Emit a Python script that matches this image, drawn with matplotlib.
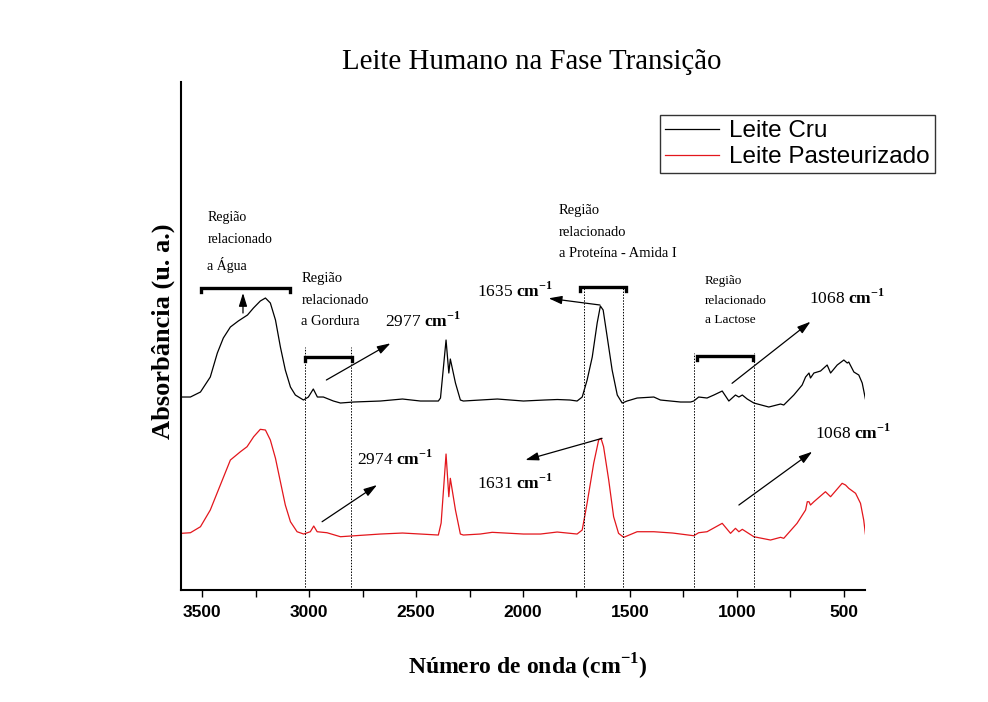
import matplotlib

matplotlib.use("Agg")
import matplotlib.pyplot as plt
from matplotlib.ticker import MultipleLocator

plt.rcParams["mathtext.fontset"] = "custom"
plt.rcParams["mathtext.rm"] = "Liberation Serif"
plt.rcParams["mathtext.bf"] = "Liberation Serif:bold"

SERIF = "Liberation Serif"
SANS = "Liberation Sans"

# FTIR spectra (wavenumber in cm-1, absorbance in a.u.)
cru_wn = [3598, 3556, 3509, 3463, 3430, 3402, 3369, 3332, 3289, 3261, 3229, 3205, 3182,
          3158, 3135, 3112, 3088, 3065, 3027, 3004, 2981, 2962, 2934, 2887, 2854, 2793,
          2667, 2564, 2480, 2396, 2386, 2360, 2347, 2340, 2316, 2293, 2279, 2200, 2120,
          1998, 1900, 1839, 1780, 1747, 1723, 1700, 1676, 1653, 1638, 1625, 1606, 1583,
          1559, 1536, 1513, 1466, 1388, 1357, 1263, 1216, 1201, 1178, 1139, 1107, 1068,
          1037, 1006, 990, 974, 951, 920, 850, 795, 780, 733, 694, 678, 662, 655, 639,
          608, 577, 561, 530, 499, 483, 476, 452, 429, 413, 398]
cru_abs = [1.93, 1.93, 1.98, 2.13, 2.37, 2.52, 2.63, 2.69, 2.75, 2.82, 2.89, 2.92, 2.87,
           2.70, 2.43, 2.20, 2.03, 1.95, 1.90, 1.93, 2.01, 1.93, 1.93, 1.89, 1.87, 1.88,
           1.89, 1.91, 1.89, 1.89, 1.92, 2.50, 2.17, 2.31, 2.07, 1.90, 1.89, 1.90, 1.91,
           1.89, 1.90, 1.905, 1.90, 1.89, 1.93, 2.10, 2.33, 2.67, 2.84, 2.80, 2.53, 2.20,
           1.95, 1.87, 1.89, 1.92, 1.93, 1.90, 1.88, 1.88, 1.89, 1.93, 1.92, 1.95, 1.99,
           1.89, 1.95, 1.93, 1.95, 1.91, 1.87, 1.83, 1.86, 1.85, 1.95, 2.05, 2.13, 2.17,
           2.12, 2.17, 2.19, 2.25, 2.17, 2.25, 2.30, 2.27, 2.28, 2.18, 2.15, 2.07, 1.91]

past_wn = [3598, 3556, 3509, 3463, 3416, 3369, 3322, 3291, 3260, 3229, 3205, 3182, 3158,
           3135, 3112, 3088, 3057, 3026, 2995, 2979, 2963, 2917, 2854, 2807, 2667, 2564,
           2480, 2396, 2383, 2360, 2347, 2340, 2316, 2293, 2279, 2200, 2144, 1998, 1918,
           1840, 1747, 1723, 1700, 1669, 1646, 1635, 1623, 1599, 1576, 1553, 1529, 1466,
           1388, 1300, 1201, 1178, 1139, 1068, 1029, 1006, 990, 974, 920, 842, 795, 780,
           718, 678, 670, 662, 655, 639, 585, 561, 507, 491, 476, 444, 421, 406, 398]
past_abs = [0.567, 0.573, 0.633, 0.80, 1.05, 1.30, 1.383, 1.433, 1.533, 1.607, 1.60, 1.50,
            1.317, 1.083, 0.85, 0.683, 0.583, 0.56, 0.583, 0.64, 0.583, 0.573, 0.533, 0.54,
            0.56, 0.57, 0.56, 0.55, 0.67, 1.36, 0.933, 1.117, 0.80, 0.56, 0.55, 0.56, 0.577,
            0.56, 0.56, 0.58, 0.56, 0.60, 0.87, 1.27, 1.50, 1.517, 1.433, 1.10, 0.733, 0.567,
            0.527, 0.583, 0.583, 0.57, 0.543, 0.573, 0.583, 0.667, 0.567, 0.617, 0.583, 0.607,
            0.533, 0.50, 0.527, 0.517, 0.667, 0.80, 0.883, 0.883, 0.85, 0.883, 0.983, 0.933,
            1.067, 1.05, 1.017, 0.967, 0.867, 0.70, 0.56]

# region brackets: (start, end, height)
brackets = [(3505, 3088, 3.02), (3020, 2802, 2.33), (1735, 1517, 3.03), (1188, 926, 2.34)]
# dotted region limits: (wavenumber, top)
guides = [(3020, 2.43), (2807, 2.43), (1716, 3.03), (1532, 3.03), (1198, 2.37), (917, 2.37)]
region_texts = [
    (3477, 3.48, "Região\nrelacionado\na Água", 10),
    (3037, 2.90, "Região\nrelacionado\na Gordura", 10.5),
    (1833, 3.577, "Região\nrelacionado\na Proteína - Amida I", 10.5),
    (1149, 2.893, "Região\nrelacionado\na Lactose", 9.5),
]
# arrows: (tail x, tail y, head x, head y)
arrows = [
    (3310, 2.77, 3310, 2.97),
    (2920, 2.10, 2620, 2.467),
    (1640, 2.85, 1880, 2.917),
    (1022, 2.067, 655, 2.683),
    (2940, 0.683, 2683, 1.05),
    (1630, 1.517, 1989, 1.30),
    (990, 0.85, 647, 1.383),
]
peak_labels = [
    (2644, 2.63, "2977"),
    (2215, 2.93, "1635"),
    (663, 2.86, "1068"),
    (2776, 1.255, "2974"),
    (2215, 1.01, "1631"),
    (632, 1.51, "1068"),
]

fig = plt.figure(figsize=(9.88, 7.02), dpi=100)
ax = fig.add_axes([0.1832, 0.1595, 0.6923, 0.7237])

ax.plot(cru_wn, cru_abs, color="black", lw=0.9, label="Leite Cru")
ax.plot(past_wn, past_abs, color="#e3161c", lw=0.9, label="Leite Pasteurizado")

for w, top in guides:
    ax.plot([w, w], [0, top], color="black", lw=0.7, ls=(0, (1.5, 1.5)))

for x0, x1, h in brackets:
    ax.plot([x0, x0, x1, x1], [h - 0.04, h, h, h - 0.04], color="black", lw=2.4,
            solid_joinstyle="miter")

for x0, y0, x1, y1 in arrows:
    ax.annotate("", xy=(x1, y1), xytext=(x0, y0),
                arrowprops=dict(arrowstyle="-|>,head_length=0.8,head_width=0.25",
                                color="black", lw=0.9, shrinkA=0, shrinkB=0))

for x, y, txt, fs in region_texts:
    ax.text(x, y, txt, ha="left", va="center", family=SERIF, fontsize=fs,
            linespacing=1.85)

for x, y, num in peak_labels:
    ax.text(x, y, num + r" $\mathbf{cm}^{\mathbf{-1}}$", ha="left", va="baseline",
            family=SERIF, fontsize=12.5)

ax.set_xlim(3600, 400)
ax.set_ylim(0, 5.08)
ax.xaxis.set_major_locator(MultipleLocator(500))
ax.xaxis.set_minor_locator(MultipleLocator(250))
ax.tick_params(axis="x", which="both", direction="out", length=5, width=1)
ax.tick_params(axis="x", which="major", labelsize=12.5, pad=6)
for lab in ax.get_xticklabels():
    lab.set_family(SANS)
    lab.set_fontweight("bold")
ax.set_yticks([])
ax.spines["top"].set_visible(False)
ax.spines["right"].set_visible(False)
ax.spines["left"].set_linewidth(1.5)
ax.spines["bottom"].set_linewidth(1.5)

leg = ax.legend(loc="upper left", bbox_to_anchor=(660 / 988, 1 - 115 / 702),
                bbox_transform=fig.transFigure, prop={"family": SANS, "size": 17.5},
                handlelength=2.2, handletextpad=0.4, labelspacing=0.15,
                borderpad=0.22, borderaxespad=0, fancybox=False, frameon=True)
leg.get_frame().set_edgecolor("black")
leg.get_frame().set_linewidth(1.0)

fig.text(0.538, 0.912, "Leite Humano na Fase Transição", ha="center", va="center",
         family=SERIF, fontsize=20.8)
fig.text(0.165, 0.528, "Absorbância (u. a.)", ha="center", va="center", rotation=90,
         family=SERIF, fontsize=19, fontweight="bold")
fig.text(0.534, 0.0385, r"Número de onda (cm$^{\mathbf{-1}}$)", ha="center",
         va="baseline", family=SERIF, fontsize=17, fontweight="bold")

fig.savefig("out.png", dpi=100)
